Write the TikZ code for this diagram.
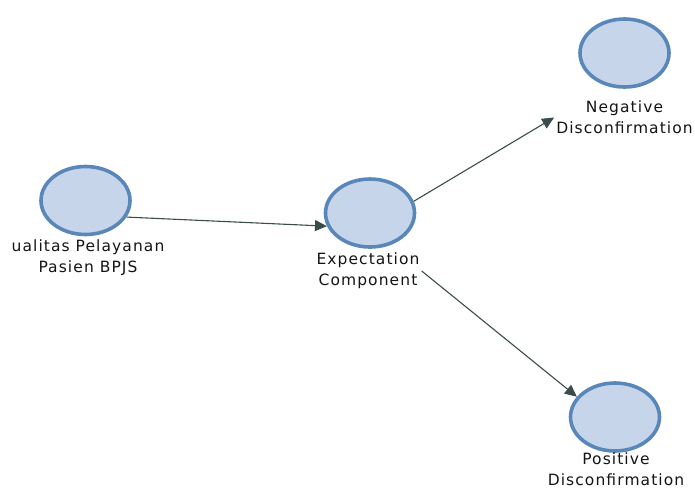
\documentclass[tikz,border=0pt]{standalone}
\usepackage{fontspec}
\setmainfont{DejaVu Sans}[LetterSpace=7]
\usetikzlibrary{shapes.geometric,arrows.meta}
\definecolor{nodefill}{HTML}{C6D5EA}
\definecolor{nodeedge}{HTML}{5A87BA}
\definecolor{linkcol}{HTML}{3A4C4B}
\tikzset{
  construct/.style={ellipse, draw=nodeedge, fill=nodefill, line width=3.6pt,
    minimum width=89pt, minimum height=68pt, inner sep=0pt},
  caption/.style={align=center, inner sep=2pt, text=black!92,
    font=\fontsize{15.5}{21}\selectfont},
  link/.style={draw=linkcol, line width=1.1pt,
    -{Triangle[length=12pt,width=11pt,fill=linkcol]}}
}
\begin{document}
\begin{tikzpicture}[x=1pt,y=-1pt]
  \useasboundingbox (0,0) rectangle (695,488);
  % latent constructs
  \node[construct] (qual) at (85.5,200.5) {};
  \node[construct] (expc) at (370,213) {};
  \node[construct] (negd) at (624.5,53) {};
  \node[construct] (posd) at (615,417) {};
  % captions under the constructs
  \node[caption] (qualcap) at (88,258) {ualitas Pelayanan\\Pasien BPJS};
  \node[caption] (expccap) at (368,271) {Expectation\\Component};
  \node[caption] (negdcap) at (624.5,117.5) {Negative\\Disconfirmation};
  \node[caption] (posdcap) at (616,469) {Positive\\Disconfirmation};
  % paths
  \draw[link] (qual.-22) -- (expc.197);
  \draw[link] (expc.15) -- (negdcap.west);
  \draw[link] (expccap.east) -- (posd.152);
\end{tikzpicture}
\end{document}
